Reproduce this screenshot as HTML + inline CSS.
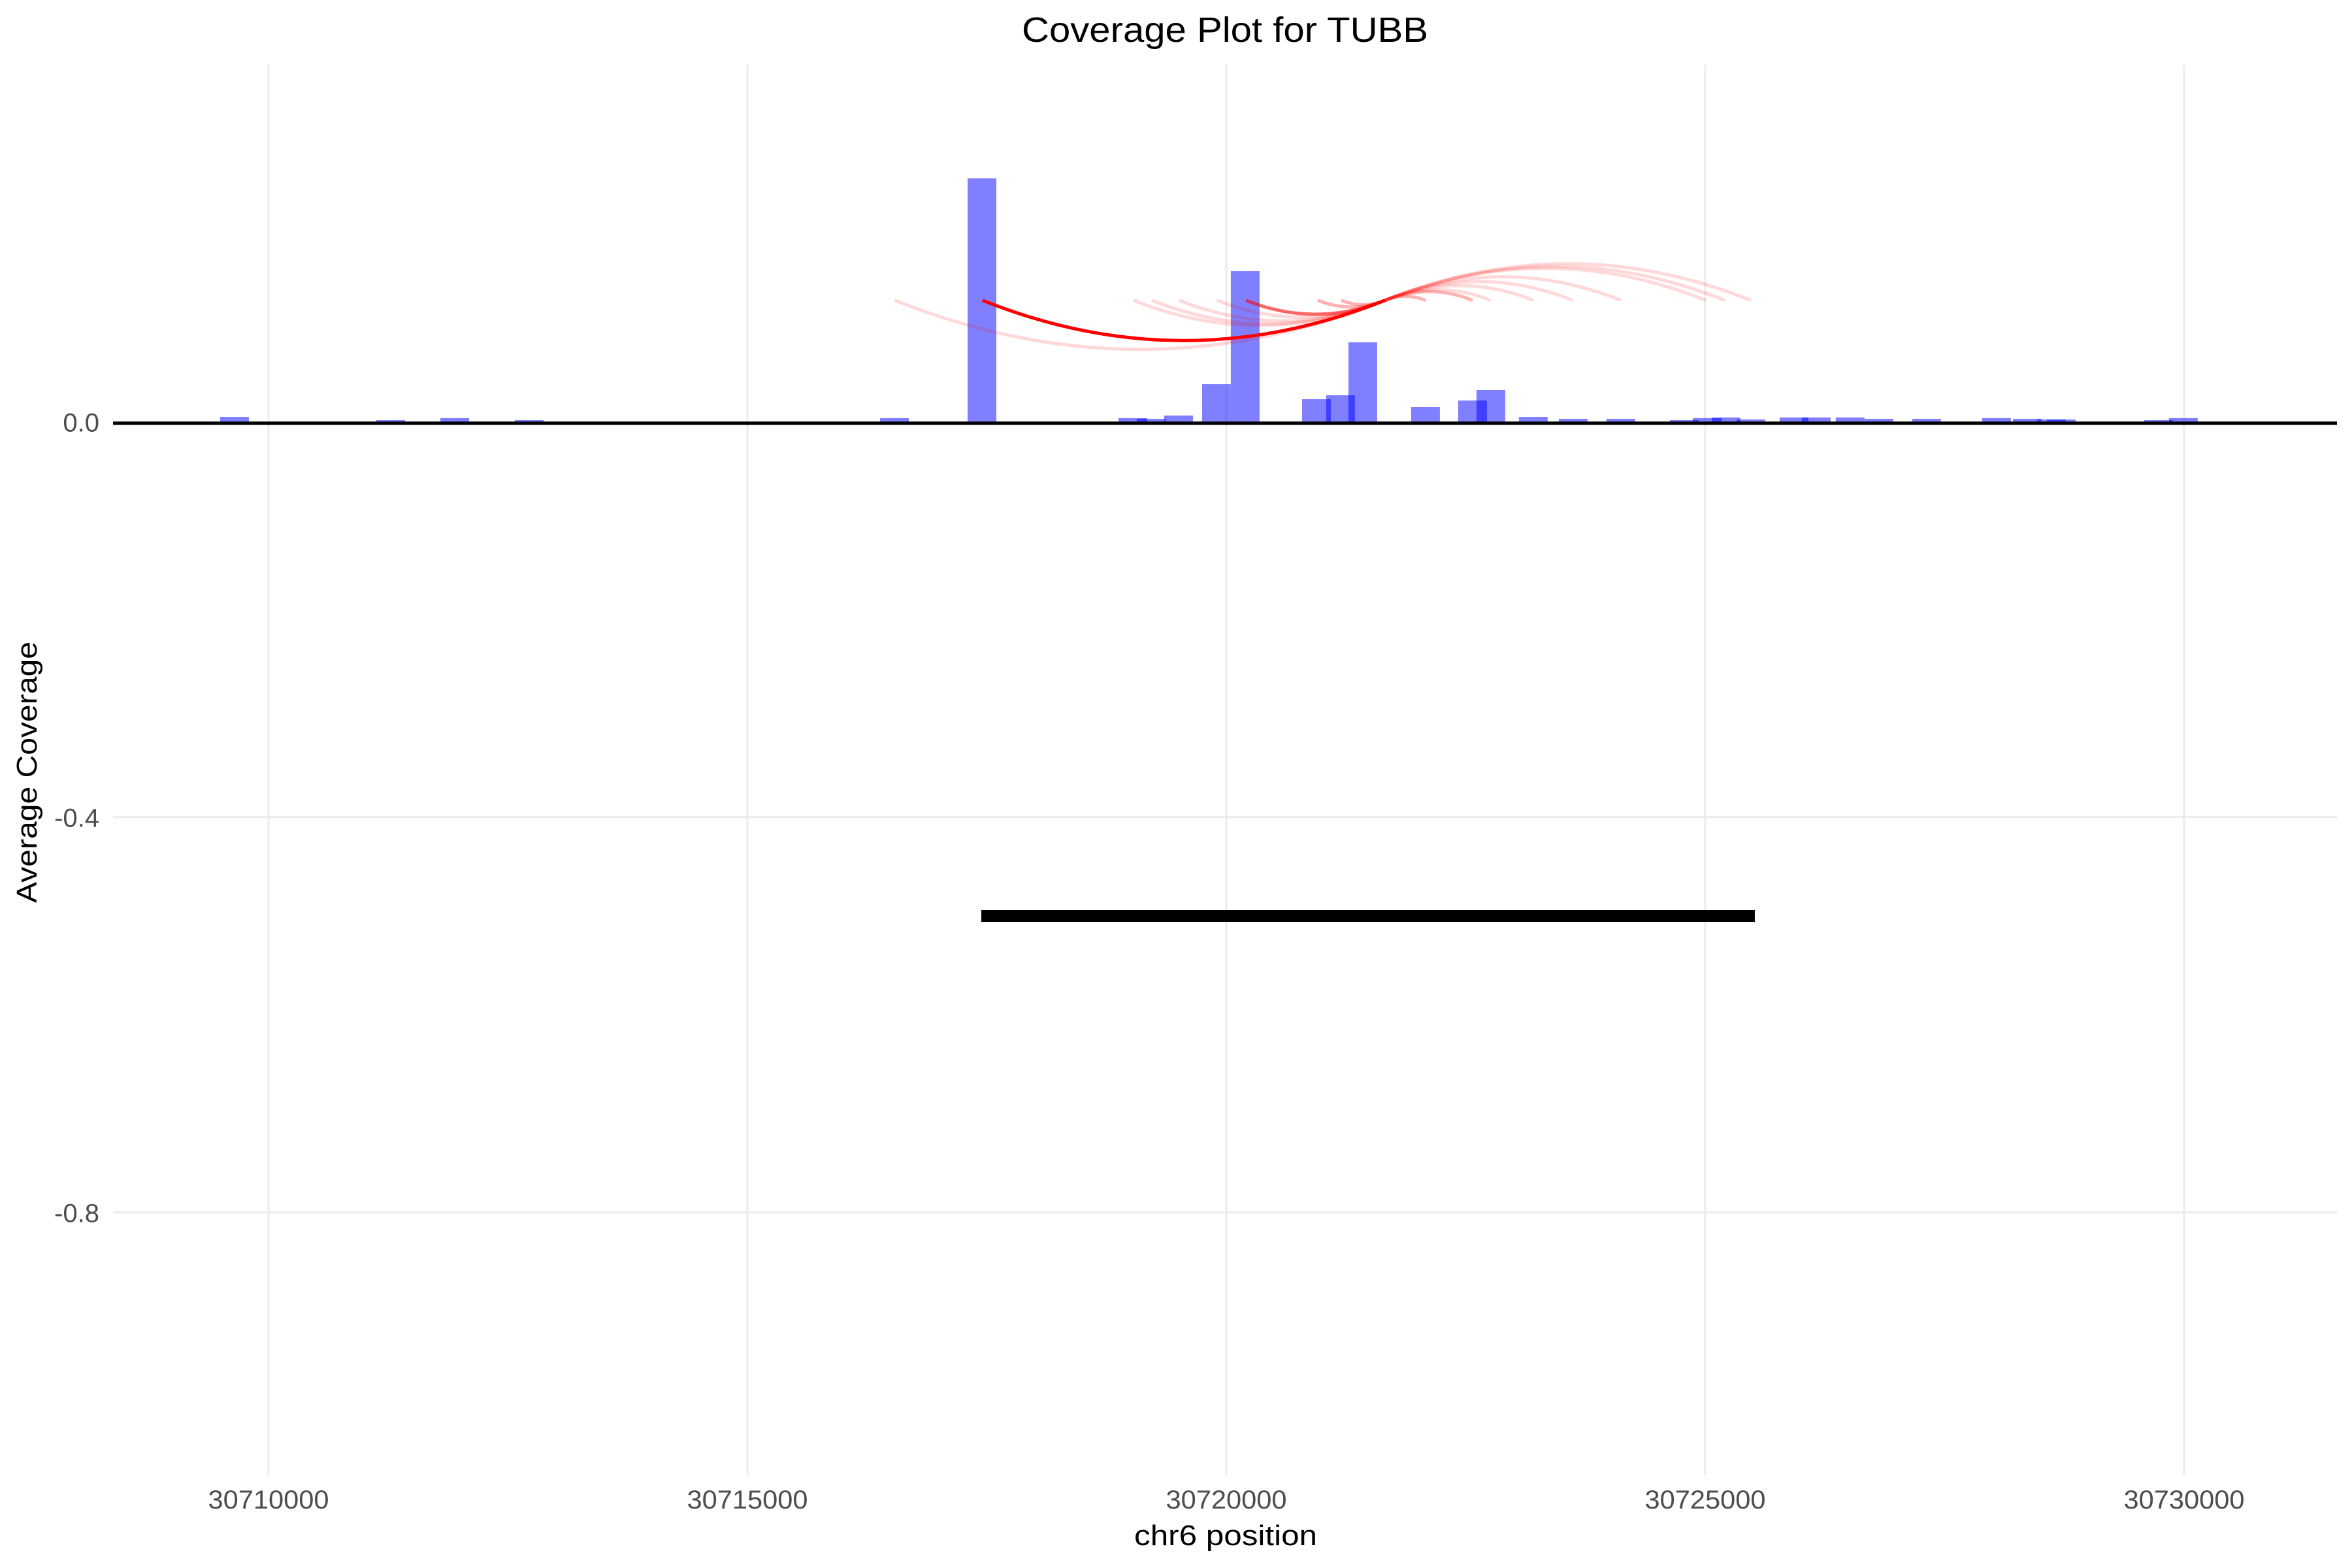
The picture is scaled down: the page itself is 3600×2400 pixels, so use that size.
<!DOCTYPE html>
<html><head><meta charset="utf-8"><style>
html,body{margin:0;padding:0;background:#fff;}
svg{display:block;font-family:"Liberation Sans",Arial,sans-serif;}
</style></head><body>
<svg id="chart" width="3600" height="2400" viewBox="0 0 3600 2400" xmlns="http://www.w3.org/2000/svg">
<rect width="3600" height="2400" fill="#fff"/>
<g id="grid"></g>
<g id="bars"></g>
<line id="zeroline" stroke="#000" stroke-width="5"/>
<g id="links"></g>
<g id="gene"></g>
<g id="xticks"></g>
<g id="yticks"></g>
<text x="1875" y="64" text-anchor="middle" font-size="54" textLength="622" lengthAdjust="spacingAndGlyphs" fill="#000">Coverage Plot for TUBB</text>
<text x="1876" y="2365" text-anchor="middle" font-size="44" textLength="280" lengthAdjust="spacingAndGlyphs" fill="#000">chr6 position</text>
<text transform="translate(56,1182) rotate(-90)" text-anchor="middle" font-size="44" textLength="400" lengthAdjust="spacingAndGlyphs" fill="#000">Average Coverage</text>
</svg>
<script>
const binStarts = [30709495,30711125,30711794,30712572,30716385,30717299,30718874,30719065,30719352,30719747,30720047,30720791,30721043,30721275,30721930,30722421,30722612,30723055,30723471,30723969,30724631,30724870,30725067,30725327,30725777,30726009,30726363,30726663,30727161,30727891,30728212,30728464,30728567,30729583,30729842];
const coverage = [0.0051,0.0018,0.0038,0.0018,0.0038,0.2464,0.0038,0.0031,0.0064,0.0381,0.1525,0.0229,0.0269,0.0805,0.015,0.0216,0.0322,0.0051,0.0031,0.0031,0.0018,0.0038,0.0044,0.0024,0.0044,0.0044,0.0044,0.0031,0.0031,0.0038,0.0031,0.0024,0.0024,0.0018,0.0038];
const binWidth = 300;
const linkStarts = [30716541,30717455,30719031,30719222,30719509,30719904,30720204,30720955,30721200,30721657,30721657,30721657,30721657,30721657,30721657,30721657,30721657,30721657];
const linkEnds = [30721657,30721657,30721657,30721657,30721657,30721657,30721657,30721657,30721657,30722080,30722571,30722762,30723205,30723615,30724119,30725006,30725204,30725477];
const linkAlpha = [0.15,1,0.15,0.15,0.15,0.15,0.6,0.3,0.3,0.3,0.3,0.15,0.15,0.15,0.15,0.15,0.15,0.15];
const linkBend = [1,1,1,1,1,1,1,1,1,-1,-1,-1,-1,-1,-1,-1,-1,-1];
const linkY = 0.123;
const geneStart = 30717442, geneEnd = 30725518, geneY = -0.5;
const xTicks = [30710000,30715000,30720000,30725000,30730000];
const xTickLabels = ["30710000","30715000","30720000","30725000","30730000"];
const yTicks = [0, -0.4, -0.8];
const yTickLabels = ["0.0","-0.4","-0.8"];

const NS = "http://www.w3.org/2000/svg";
const X = v => 411 + (v - 30710000) * (733 / 5000);
const Y = v => 645.7 - v * (605 / 0.4);
const PL = 173, PR = 3577, PT = 99, PB = 2258;
function mk(tag, attrs, parent) {
  const e = document.createElementNS(NS, tag);
  for (const k in attrs) e.setAttribute(k, attrs[k]);
  parent.appendChild(e);
  return e;
}
const grid = document.getElementById('grid');
xTicks.forEach((t, i) => {
  const l = mk('line', {x1: X(t), x2: X(t), y1: PT, y2: PB, stroke: '#ebebeb', 'stroke-width': 3}, grid);
  
  
  const tx = mk('text', {x: X(t), y: 2309, 'text-anchor': 'middle', 'font-size': 40, fill: '#4d4d4d', textLength: 185, lengthAdjust: 'spacingAndGlyphs'}, document.getElementById('xticks'));
  tx.textContent = xTickLabels[i];
  
  
});
yTicks.forEach((t, i) => {
  const l = mk('line', {x1: PL, x2: PR, y1: Y(t), y2: Y(t), stroke: '#ebebeb', 'stroke-width': 3}, grid);
  
  
  const tx = mk('text', {x: 152, y: Y(t) + 15, 'text-anchor': 'end', 'font-size': 40, fill: '#4d4d4d'}, document.getElementById('yticks'));
  tx.textContent = yTickLabels[i];
  
  
});
const bars = document.getElementById('bars');
binStarts.forEach((s, i) => {
  const x0 = X(s), x1 = X(s + binWidth), y0 = Y(coverage[i]), yb = Y(0);
  const r = mk('rect', {x: x0, y: y0, width: x1 - x0, height: yb - y0, fill: 'rgba(0,0,255,0.5)'}, bars);
  
  
});
const z = document.getElementById('zeroline');
z.setAttribute('x1', PL); z.setAttribute('x2', PR);
z.setAttribute('y1', Y(0) + 2); z.setAttribute('y2', Y(0) + 2);
const links = document.getElementById('links');
linkStarts.forEach((s, i) => {
  const x1 = X(s), x2 = X(linkEnds[i]), y = Y(linkY);
  const ch = Math.abs(x2 - x1);
  const cx = (x1 + x2) / 2, cy = y + linkBend[i] * 0.2 * ch;
  const p = mk('path', {d: `M${x1},${y} Q${cx},${cy} ${x2},${y}`, fill: 'none', stroke: 'rgba(255,0,0,' + linkAlpha[i] + ')', 'stroke-width': 5}, links);
  
  
});
const g = mk('line', {x1: X(geneStart), x2: X(geneEnd), y1: Y(geneY), y2: Y(geneY), stroke: '#000', 'stroke-width': 18}, document.getElementById('gene'));


</script>
</body></html>
